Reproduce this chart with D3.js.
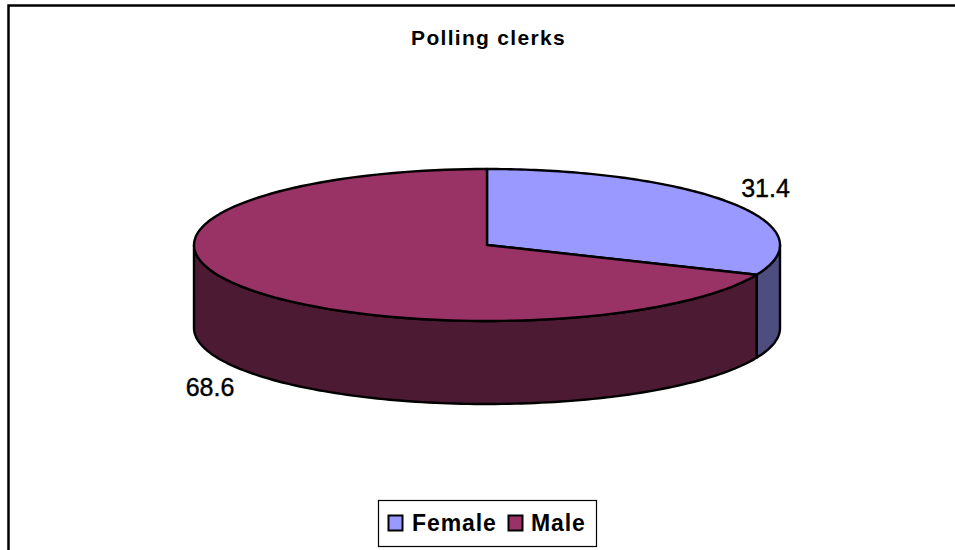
<!DOCTYPE html>
<html><head><meta charset="utf-8">
<style>html,body{margin:0;padding:0;background:#fff;overflow:hidden}svg{display:block}text{font-family:"Liberation Sans",Arial,sans-serif;fill:#000}</style>
<script src="https://cdn.jsdelivr.net/npm/d3@7"></script></head><body>
<script>
const title = "Polling clerks";
const categories = ["Female", "Male"];
const seriesValues = [31.4, 68.6];
const topColors = ["#9999FF", "#993366"];
const sideColors = ["#4D4D80", "#4D1A33"];

const W = 955, H = 550, cx = 487, cy = 245, rx = 293, ry = 76, depth = 83;
const svg = d3.select("body").append("svg").attr("width", W).attr("height", H);

svg.append("path").attr("d", `M8.5,${H}V5.5H${W}`).attr("fill", "none").attr("stroke", "#000").attr("stroke-width", 2.5);

svg.append("text").attr("x", 488.5).attr("y", 45).attr("text-anchor", "middle")
  .attr("font-size", 21).attr("font-weight", "bold").attr("letter-spacing", 1.3).text(title);

const arcs = d3.pie().sort(null)(seriesValues);
const px = d3.scaleLinear().domain([-1, 1]).range([cx - rx, cx + rx]);
const py = d3.scaleLinear().domain([-1, 1]).range([cy - ry, cy + ry]);
const pt = (a, dz = 0) => [px(Math.sin(a)), py(-Math.cos(a)) + dz];
const line = d3.line();
const steps = (a, b) => d3.range(0, 121).map(i => a + (b - a) * i / 120);

// visible side walls: the front half of the ellipse
arcs.forEach((d, i) => {
  const a = Math.max(d.startAngle, Math.PI / 2), b = Math.min(d.endAngle, 3 * Math.PI / 2);
  if (b <= a) return;
  const s = steps(a, b);
  const pts = s.map(t => pt(t)).concat(s.slice().reverse().map(t => pt(t, depth)));
  svg.append("path").attr("d", line(pts) + "Z").attr("fill", sideColors[i])
    .attr("stroke", "#000").attr("stroke-width", 2.4).attr("stroke-linejoin", "round");
});

// top faces
arcs.forEach((d, i) => {
  const pts = [[px(0), py(0)]].concat(steps(d.startAngle, d.endAngle).map(t => pt(t)));
  svg.append("path").attr("d", line(pts) + "Z").attr("fill", topColors[i])
    .attr("stroke", "#000").attr("stroke-width", 2.4).attr("stroke-linejoin", "round");
});

// value labels
const labelPos = [[765.5, 197], [210, 396]];
seriesValues.forEach((v, i) => {
  svg.append("text").attr("x", labelPos[i][0]).attr("y", labelPos[i][1]).attr("text-anchor", "middle")
    .attr("font-size", 25).attr("stroke", "#000").attr("stroke-width", 0.4).text(v.toFixed(1));
});

// legend
svg.append("rect").attr("x", 378.5).attr("y", 500.5).attr("width", 218).attr("height", 46)
  .attr("fill", "#fff").attr("stroke", "#000").attr("stroke-width", 1.2);
const swatchX = [388.5, 508.5], textX = [412, 531];
categories.forEach((c, i) => {
  svg.append("rect").attr("x", swatchX[i]).attr("y", 515.5).attr("width", 14).attr("height", 15)
    .attr("fill", topColors[i]).attr("stroke", "#000").attr("stroke-width", 2);
  svg.append("text").attr("x", textX[i]).attr("y", 531).attr("font-size", 23).attr("font-weight", "bold")
    .attr("letter-spacing", 0.9).text(c);
});
</script></body></html>
